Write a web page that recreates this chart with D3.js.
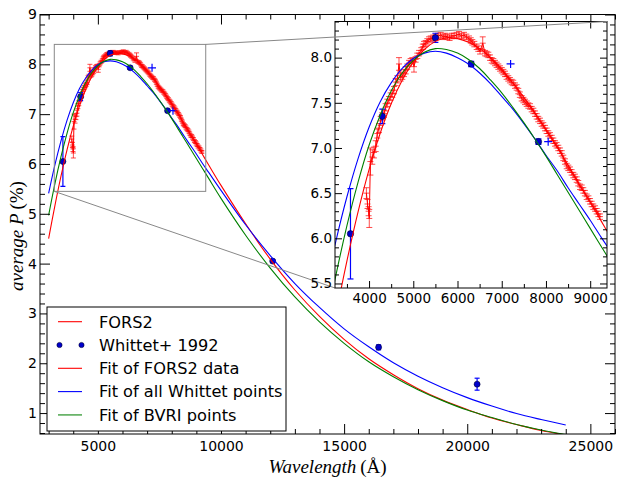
<!DOCTYPE html>
<html>
<head>
<meta charset="utf-8">
<script src="https://cdn.jsdelivr.net/npm/d3@7"></script>
<style>
body { margin: 0; background: #fff; }
</style>
</head>
<body>
<script>
// FORS2 polarisation spectrum (wavelength in Angstrom, P in %, error in %)
var forsWave = [3940, 3965, 3990, 4005, 4030, 4073, 4110, 4150, 4187, 4225, 4263, 4300, 4338, 4375, 4413, 4450,
  4489, 4525, 4564, 4602, 4640, 4677, 4715, 4752, 4790, 4828, 4865, 4903, 4940, 4978, 5016, 5053, 5091, 5130,
  5181, 5215, 5242, 5280, 5317, 5355, 5394, 5450, 5507, 5560, 5620, 5680, 5720, 5770, 5820, 5870, 5921, 5980,
  6034, 6090, 6147, 6200, 6260, 6300, 6334, 6380, 6434, 6470, 6509, 6570, 6622, 6660, 6697, 6735, 6773, 6810,
  6848, 6885, 6923, 6960, 7000, 7037, 7074, 7110, 7148, 7185, 7225, 7260, 7300, 7337, 7374, 7410, 7451, 7490,
  7526, 7565, 7601, 7640, 7677, 7715, 7752, 7790, 7826, 7865, 7903, 7940, 7978, 8015, 8053, 8090, 8130, 8167,
  8204, 8240, 8279, 8318, 8356, 8392, 8430, 8469, 8505, 8543, 8580, 8618, 8655, 8695, 8730, 8770, 8808, 8844,
  8880, 8921, 8960, 8996, 9033, 9070, 9110, 9147, 9185, 9222];
var forsP = [6.50, 6.38, 6.30, 6.22, 6.85, 6.90, 6.95, 7.02, 7.16, 7.22, 7.30, 7.35, 7.38, 7.45, 7.50, 7.53,
  7.57, 7.60, 7.64, 7.73, 7.76, 7.93, 7.78, 7.80, 7.83, 7.86, 7.90, 7.94, 7.96, 7.97, 7.90, 7.98, 8.02, 8.05,
  8.08, 8.12, 8.15, 8.16, 8.18, 8.20, 8.21, 8.22, 8.23, 8.24, 8.25, 8.23, 8.24, 8.23, 8.22, 8.24, 8.24, 8.25,
  8.26, 8.24, 8.25, 8.23, 8.21, 8.19, 8.17, 8.15, 8.12, 8.10, 8.07, 8.16, 8.05, 8.04, 8.03, 8.00, 7.97, 7.96,
  7.94, 7.92, 7.90, 7.88, 7.86, 7.84, 7.82, 7.79, 7.77, 7.75, 7.73, 7.72, 7.69, 7.67, 7.63, 7.59, 7.55, 7.53,
  7.51, 7.49, 7.47, 7.46, 7.43, 7.41, 7.38, 7.35, 7.32, 7.30, 7.27, 7.25, 7.22, 7.19, 7.16, 7.14, 7.11, 7.08,
  7.05, 7.03, 7.00, 6.97, 6.94, 6.89, 6.85, 6.80, 6.78, 6.76, 6.73, 6.70, 6.68, 6.65, 6.61, 6.57, 6.56, 6.53,
  6.50, 6.46, 6.44, 6.41, 6.38, 6.35, 6.33, 6.30, 6.27, 6.24];
var forsErr = [0.06, 0.05, 0.05, 0.10, 0.15, 0.08, 0.06, 0.06, 0.05, 0.05, 0.05, 0.04, 0.04, 0.04, 0.04, 0.04,
  0.04, 0.04, 0.04, 0.04, 0.04, 0.07, 0.04, 0.04, 0.04, 0.04, 0.03, 0.03, 0.03, 0.03, 0.06, 0.03, 0.03, 0.03,
  0.03, 0.03, 0.03, 0.03, 0.03, 0.03, 0.03, 0.03, 0.03, 0.03, 0.03, 0.03, 0.03, 0.03, 0.03, 0.03, 0.03, 0.03,
  0.03, 0.03, 0.03, 0.03, 0.03, 0.03, 0.03, 0.03, 0.03, 0.03, 0.03, 0.07, 0.03, 0.03, 0.03, 0.03, 0.03, 0.03,
  0.03, 0.03, 0.03, 0.03, 0.03, 0.03, 0.03, 0.03, 0.03, 0.03, 0.03, 0.03, 0.03, 0.03, 0.03, 0.03, 0.03, 0.03,
  0.03, 0.03, 0.03, 0.03, 0.03, 0.03, 0.03, 0.03, 0.03, 0.03, 0.03, 0.03, 0.03, 0.03, 0.03, 0.03, 0.03, 0.03,
  0.03, 0.03, 0.03, 0.03, 0.03, 0.03, 0.03, 0.03, 0.03, 0.03, 0.03, 0.03, 0.03, 0.03, 0.03, 0.03, 0.03, 0.03,
  0.03, 0.03, 0.03, 0.03, 0.03, 0.03, 0.03, 0.03, 0.03, 0.03];

// Whittet et al. 1992 broad-band points
var whittetWave = [3580, 4300, 5500, 6310, 7830, 12100, 16400, 20400];
var whittetP = [6.05, 7.35, 8.22, 7.93, 7.07, 4.05, 2.32, 1.58];
var whittetErr = [0.50, 0.08, 0.05, 0.03, 0.03, 0.03, 0.05, 0.12];

// extra blue crosses
var plusWave = [7200, 8050];
var plusP = [7.93, 7.07];

// fitted curves
var fitWave = [3000, 3250, 3500, 3750, 4000, 4250, 4500, 4750, 5000, 5250, 5500, 5750, 6000, 6250, 6500, 6750,
  7000, 7250, 7500, 7750, 8000, 8250, 8500, 8750, 9000, 9250, 9500, 10000, 11000, 12000, 13000, 14000, 15000,
  16000, 17000, 18000, 19000, 20000, 21000, 22000, 23000, 24000];
var fitFors = [4.50, 5.15, 5.75, 6.29, 6.76, 7.16, 7.49, 7.75, 7.95, 8.09, 8.18, 8.22, 8.21, 8.17, 8.10, 8.00,
  7.87, 7.72, 7.56, 7.39, 7.20, 7.01, 6.81, 6.60, 6.40, 6.19, 5.98, 5.57, 4.80, 4.09, 3.47, 2.94, 2.48,
  2.09, 1.77, 1.49, 1.26, 1.07, 0.90, 0.77, 0.65, 0.56];
var fitWhittet = [5.41, 5.97, 6.46, 6.88, 7.23, 7.51, 7.72, 7.88, 7.99, 8.05, 8.07, 8.05, 8.00, 7.93, 7.83, 7.71,
  7.57, 7.43, 7.27, 7.10, 6.92, 6.75, 6.56, 6.38, 6.20, 6.01, 5.83, 5.47, 4.78, 4.16, 3.60, 3.12, 2.69,
  2.33, 2.01, 1.74, 1.51, 1.31, 1.14, 0.99, 0.87, 0.76];
var fitBVRI = [4.97, 5.59, 6.14, 6.62, 7.03, 7.36, 7.63, 7.83, 7.97, 8.06, 8.10, 8.09, 8.05, 7.98, 7.88, 7.75,
  7.61, 7.45, 7.28, 7.10, 6.91, 6.71, 6.51, 6.31, 6.11, 5.91, 5.71, 5.31, 4.57, 3.91, 3.33, 2.83, 2.40,
  2.03, 1.73, 1.47, 1.25, 1.06, 0.91, 0.77, 0.66, 0.57];

var legendLabels = ["FORS2", "Whittet+ 1992", "Fit of FORS2 data", "Fit of all Whittet points", "Fit of BVRI points"];

var mainXTicks = [5000, 10000, 15000, 20000, 25000];
var mainYTicks = [1, 2, 3, 4, 5, 6, 7, 8, 9];
var insetXTicks = [4000, 5000, 6000, 7000, 8000, 9000];
var insetYTicks = [5.5, 6.0, 6.5, 7.0, 7.5, 8.0];

var RED = "#ff0000", BLUE = "#0000ff", GREEN = "#008000";

var svg = d3.select("body").append("svg").attr("width", 617).attr("height", 481);

var x = d3.scaleLinear().domain([2650, 26000]).range([40, 615]);
var y = d3.scaleLinear().domain([0.58, 9]).range([434, 14.5]);
var xi = d3.scaleLinear().domain([3230, 9380]).range([335, 607]);
var yi = d3.scaleLinear().domain([5.45, 8.40]).range([288, 21.5]);

var fits = [[fitFors, RED], [fitWhittet, BLUE], [fitBVRI, GREEN]];

function panel(xs, ys, id, cap, r) {
  var x0 = xs.range()[0], x1 = xs.range()[1], y0 = ys.range()[0], y1 = ys.range()[1];
  svg.append("clipPath").attr("id", id).append("rect")
    .attr("x", x0).attr("y", y1).attr("width", x1 - x0).attr("height", y0 - y1);
  var g = svg.append("g").attr("clip-path", "url(#" + id + ")");

  // FORS2 error bars + line
  var eb = g.append("g").attr("stroke", RED).attr("stroke-opacity", 0.7).attr("stroke-width", 1);
  forsWave.forEach(function (w, i) {
    var px = xs(w), lo = ys(forsP[i] - forsErr[i]), hi = ys(forsP[i] + forsErr[i]);
    eb.append("line").attr("x1", px).attr("x2", px).attr("y1", lo).attr("y2", hi);
    eb.append("line").attr("x1", px - cap).attr("x2", px + cap).attr("y1", lo).attr("y2", lo);
    eb.append("line").attr("x1", px - cap).attr("x2", px + cap).attr("y1", hi).attr("y2", hi);
    eb.append("line").attr("x1", px - cap).attr("x2", px + cap).attr("y1", ys(forsP[i])).attr("y2", ys(forsP[i]));
  });
  g.append("path").datum(forsWave)
    .attr("fill", "none").attr("stroke", RED).attr("stroke-width", 1)
    .attr("d", d3.line().x(function (d) { return xs(d); }).y(function (d, i) { return ys(forsP[i]); }));

  // Whittet points
  var wb = g.append("g").attr("stroke", BLUE).attr("stroke-width", 1.2);
  whittetWave.forEach(function (w, i) {
    var px = xs(w), lo = ys(whittetP[i] - whittetErr[i]), hi = ys(whittetP[i] + whittetErr[i]);
    wb.append("line").attr("x1", px).attr("x2", px).attr("y1", lo).attr("y2", hi);
    wb.append("line").attr("x1", px - cap).attr("x2", px + cap).attr("y1", lo).attr("y2", lo);
    wb.append("line").attr("x1", px - cap).attr("x2", px + cap).attr("y1", hi).attr("y2", hi);
  });
  g.selectAll(".wdot" + id).data(whittetWave).enter().append("circle")
    .attr("cx", function (d) { return xs(d); })
    .attr("cy", function (d, i) { return ys(whittetP[i]); })
    .attr("r", r).attr("fill", "#0000cc").attr("stroke", "#000033").attr("stroke-width", 0.6);

  plusWave.forEach(function (w, i) {
    var px = xs(w), py = ys(plusP[i]);
    g.append("path").attr("d", "M" + (px - 4) + "," + py + "h8M" + px + "," + (py - 4) + "v8")
      .attr("stroke", BLUE).attr("stroke-width", 1.2);
  });

  // fit curves
  var line = d3.line().curve(d3.curveCatmullRom)
    .x(function (d) { return xs(d); });
  fits.forEach(function (f) {
    g.append("path").datum(fitWave)
      .attr("fill", "none").attr("stroke", f[1]).attr("stroke-width", 1.1)
      .attr("d", line.y(function (d, i) { return ys(f[0][i]); }));
  });

  svg.append("rect").attr("x", x0).attr("y", y1).attr("width", x1 - x0).attr("height", y0 - y1)
    .attr("fill", "none").attr("stroke", "#000").attr("stroke-width", 1);
}

function tickSet(gen, tr, vals, len, fmt, pad, fs) {
  var g = svg.append("g").attr("transform", tr)
    .call(gen.tickValues(vals).tickSize(-len).tickPadding(pad).tickFormat(fmt));
  g.select(".domain").remove();
  g.attr("font-family", "DejaVu Sans").attr("font-size", fs);
  g.selectAll("line").attr("stroke", "#000");
  return g;
}

function axes(xs, ys, xt, xm, yt, ym, big, small, fs, xfmt, yfmt, xpad, ypad) {
  var x0 = xs.range()[0], x1 = xs.range()[1], y0 = ys.range()[0], y1 = ys.range()[1];
  var none = function () { return ""; };
  tickSet(d3.axisBottom(xs), "translate(0," + y0 + ")", xt, big, xfmt, xpad, fs);
  tickSet(d3.axisBottom(xs), "translate(0," + y0 + ")", xm, small, none, 0, fs);
  tickSet(d3.axisTop(xs), "translate(0," + y1 + ")", xt, big, none, 0, fs);
  tickSet(d3.axisTop(xs), "translate(0," + y1 + ")", xm, small, none, 0, fs);
  tickSet(d3.axisLeft(ys), "translate(" + x0 + ",0)", yt, big, yfmt, ypad, fs);
  tickSet(d3.axisLeft(ys), "translate(" + x0 + ",0)", ym, small, none, 0, fs);
  tickSet(d3.axisRight(ys), "translate(" + x1 + ",0)", yt, big, none, 0, fs);
  tickSet(d3.axisRight(ys), "translate(" + x1 + ",0)", ym, small, none, 0, fs);
}

// main panel
panel(x, y, "clipMain", 2.5, 3);
var mainXMinor = d3.range(3000, 26001, 1000).filter(function (v) { return v % 5000 !== 0; });
var mainYMinor = d3.range(3, 45).map(function (k) { return +(k * 0.2).toFixed(1); })
  .filter(function (v) { return Math.abs(v - Math.round(v)) > 0.01; });
axes(x, y, mainXTicks, mainXMinor, mainYTicks, mainYMinor, 10, 5, 14, d3.format("d"), d3.format("d"), 7, 3);

// zoom box and lower connector
var zx0 = x(xi.domain()[0]), zx1 = x(xi.domain()[1]), zy0 = y(yi.domain()[0]), zy1 = y(yi.domain()[1]);
svg.append("rect").attr("x", zx0).attr("y", zy1).attr("width", zx1 - zx0).attr("height", zy0 - zy1)
  .attr("fill", "none").attr("stroke", "#888").attr("stroke-width", 1);
svg.append("line").attr("x1", zx0).attr("y1", zy0).attr("x2", xi.range()[0]).attr("y2", yi.range()[0])
  .attr("stroke", "#888").attr("stroke-width", 1);

// legend
var lg = svg.append("g");
lg.append("rect").attr("x", 47).attr("y", 307).attr("width", 239).attr("height", 124)
  .attr("fill", "#fff").attr("stroke", "#000").attr("stroke-width", 1);
var legColors = [RED, BLUE, RED, BLUE, GREEN];
legendLabels.forEach(function (t, i) {
  var cy = 321.7 + i * 23.3;
  if (i === 1) {
    [59.5, 81.5].forEach(function (cx) {
      lg.append("circle").attr("cx", cx).attr("cy", cy).attr("r", 2.6)
        .attr("fill", "#0000cc").attr("stroke", "#000033").attr("stroke-width", 0.6);
    });
  } else {
    lg.append("line").attr("x1", 58).attr("x2", 82).attr("y1", cy).attr("y2", cy)
      .attr("stroke", legColors[i]).attr("stroke-width", i === 4 ? 1.6 : 1.1)
      .attr("stroke-opacity", i === 4 ? 0.65 : 1);
  }
  lg.append("text").attr("x", 99).attr("y", cy + 5.8).attr("font-family", "DejaVu Sans")
    .attr("font-size", 16.2).text(t);
});

// inset panel
svg.append("rect").attr("x", 335).attr("y", 21.5).attr("width", 272).attr("height", 266.5).attr("fill", "#fff");
panel(xi, yi, "clipInset", 3, 3.2);
var insetXMinor = d3.range(3500, 9400, 1000);
var insetYMinor = d3.range(55, 85).map(function (k) { return +(k * 0.1).toFixed(1); })
  .filter(function (v) { return Math.abs(v * 2 - Math.round(v * 2)) > 0.01; });
axes(xi, yi, insetXTicks, insetXMinor, insetYTicks, insetYMinor, 7, 4, 13.5, d3.format("d"), d3.format(".1f"), 5, 3);

// upper connector, drawn over the inset
svg.append("line").attr("x1", zx1).attr("y1", zy1).attr("x2", xi.range()[1]).attr("y2", yi.range()[1])
  .attr("stroke", "#888").attr("stroke-width", 1);

// axis labels
var xl = svg.append("text").attr("x", 327.5).attr("y", 473).attr("text-anchor", "middle")
  .attr("font-family", "Liberation Serif").attr("font-size", 19);
xl.append("tspan").attr("font-style", "italic").text("Wavelength");
xl.append("tspan").text("\u2009(\u00c5)");

var yl = svg.append("text").attr("transform", "translate(23,236) rotate(-90)").attr("text-anchor", "middle")
  .attr("font-family", "Liberation Serif").attr("font-size", 19);
yl.append("tspan").attr("font-style", "italic").text("average P");
yl.append("tspan").text("\u2009(%)");
</script>
</body>
</html>
